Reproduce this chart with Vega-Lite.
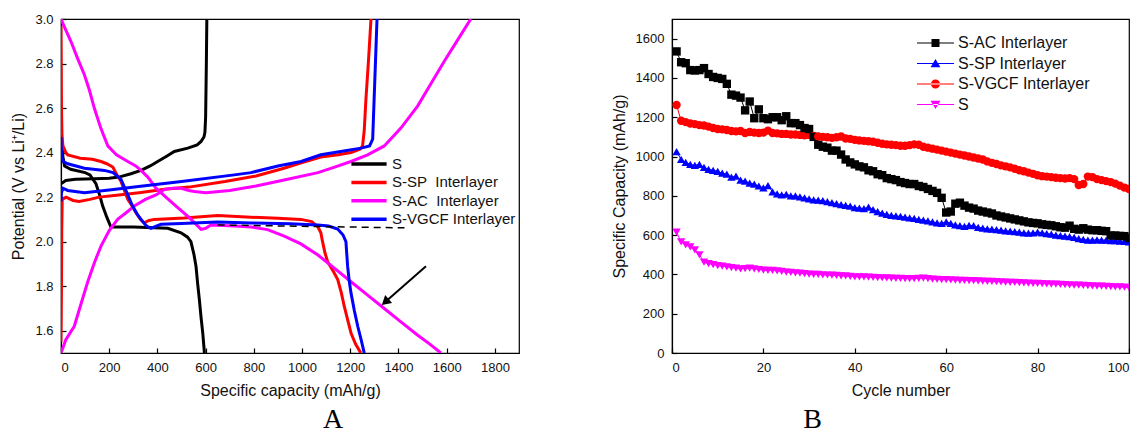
{
  "$schema": "https://vega.github.io/schema/vega-lite/v6.json",
  "background": "white",
  "padding": {"left": 10, "top": 12, "right": 5, "bottom": 5},
  "spacing": 90,
  "config": {
    "font": "Liberation Sans",
    "view": {"stroke": "#000", "strokeWidth": 1.2},
    "axis": {
      "labelFont": "Liberation Sans", "labelFontSize": 13, "labelColor": "#111",
      "titleFont": "Liberation Sans", "titleFontSize": 16, "titleFontWeight": "normal", "titleColor": "#111",
      "domainColor": "#000", "domainWidth": 1.2, "tickColor": "#000", "tickWidth": 1.2, "grid": false,
      "tickSize": -5, "labelPadding": 13
    },
    "legend": {"labelFont": "Liberation Sans"}
  },
  "resolve": {"scale": {"color": "independent", "shape": "independent", "x": "independent", "y": "independent"}},
  "hconcat": [
    {
      "width": 458, "height": 334,
      "title": {"text": "A", "orient": "bottom", "anchor": "middle", "font": "Liberation Serif", "fontSize": 28, "fontWeight": "normal", "color": "#000", "dx": 43, "offset": 8},
      "layer": [
        {
          "data": {"values": [
            {"c":"S","b":"d","i":0,"x":0,"y":2.56},{"c":"S","b":"d","i":1,"x":3,"y":2.45},{"c":"S","b":"d","i":2,"x":8,"y":2.38},{"c":"S","b":"d","i":3,"x":15,"y":2.34},{"c":"S","b":"d","i":4,"x":40,"y":2.325},{"c":"S","b":"d","i":5,"x":100,"y":2.31},{"c":"S","b":"d","i":6,"x":120,"y":2.3},{"c":"S","b":"d","i":7,"x":145,"y":2.26},{"c":"S","b":"d","i":8,"x":160,"y":2.21},{"c":"S","b":"d","i":9,"x":173,"y":2.16},{"c":"S","b":"d","i":10,"x":190,"y":2.11},{"c":"S","b":"d","i":11,"x":207,"y":2.066},{"c":"S","b":"d","i":12,"x":300,"y":2.066},{"c":"S","b":"d","i":13,"x":443,"y":2.06},{"c":"S","b":"d","i":14,"x":498,"y":2.04},{"c":"S","b":"d","i":15,"x":525,"y":2.02},{"c":"S","b":"d","i":16,"x":539,"y":2.0},{"c":"S","b":"d","i":17,"x":552,"y":1.94},{"c":"S","b":"d","i":18,"x":560,"y":1.89},{"c":"S","b":"d","i":19,"x":567,"y":1.81},{"c":"S","b":"d","i":20,"x":574,"y":1.74},{"c":"S","b":"d","i":21,"x":581,"y":1.66},{"c":"S","b":"d","i":22,"x":588,"y":1.59},{"c":"S","b":"d","i":23,"x":595,"y":1.5},
            {"c":"S","b":"c","i":0,"x":0,"y":2.26},{"c":"S","b":"c","i":1,"x":20,"y":2.275},{"c":"S","b":"c","i":2,"x":60,"y":2.28},{"c":"S","b":"c","i":3,"x":140,"y":2.283},{"c":"S","b":"c","i":4,"x":200,"y":2.285},{"c":"S","b":"c","i":5,"x":240,"y":2.29},{"c":"S","b":"c","i":6,"x":290,"y":2.305},{"c":"S","b":"c","i":7,"x":332,"y":2.32},{"c":"S","b":"c","i":8,"x":370,"y":2.34},{"c":"S","b":"c","i":9,"x":401,"y":2.36},{"c":"S","b":"c","i":10,"x":440,"y":2.385},{"c":"S","b":"c","i":11,"x":470,"y":2.405},{"c":"S","b":"c","i":12,"x":526,"y":2.42},{"c":"S","b":"c","i":13,"x":565,"y":2.435},{"c":"S","b":"c","i":14,"x":581,"y":2.45},{"c":"S","b":"c","i":15,"x":593,"y":2.47},{"c":"S","b":"c","i":16,"x":597,"y":2.49},{"c":"S","b":"c","i":17,"x":600,"y":2.56},{"c":"S","b":"c","i":18,"x":601,"y":2.64},{"c":"S","b":"c","i":19,"x":603,"y":2.8},{"c":"S","b":"c","i":20,"x":605,"y":3.0},
            {"c":"SP","b":"d","i":0,"x":0,"y":2.97},{"c":"SP","b":"d","i":1,"x":1,"y":2.8},{"c":"SP","b":"d","i":2,"x":2,"y":2.6},{"c":"SP","b":"d","i":3,"x":4,"y":2.48},{"c":"SP","b":"d","i":4,"x":8,"y":2.43},{"c":"SP","b":"d","i":5,"x":20,"y":2.4},{"c":"SP","b":"d","i":6,"x":28,"y":2.39},{"c":"SP","b":"d","i":7,"x":80,"y":2.375},{"c":"SP","b":"d","i":8,"x":130,"y":2.37},{"c":"SP","b":"d","i":9,"x":166,"y":2.36},{"c":"SP","b":"d","i":10,"x":190,"y":2.35},{"c":"SP","b":"d","i":11,"x":207,"y":2.34},{"c":"SP","b":"d","i":12,"x":215,"y":2.335},{"c":"SP","b":"d","i":13,"x":232,"y":2.3},{"c":"SP","b":"d","i":14,"x":249,"y":2.27},{"c":"SP","b":"d","i":15,"x":263,"y":2.23},{"c":"SP","b":"d","i":16,"x":277,"y":2.19},{"c":"SP","b":"d","i":17,"x":295,"y":2.16},{"c":"SP","b":"d","i":18,"x":311,"y":2.13},{"c":"SP","b":"d","i":19,"x":330,"y":2.1},{"c":"SP","b":"d","i":20,"x":345,"y":2.085},{"c":"SP","b":"d","i":21,"x":365,"y":2.095},{"c":"SP","b":"d","i":22,"x":387,"y":2.1},{"c":"SP","b":"d","i":23,"x":511,"y":2.106},{"c":"SP","b":"d","i":24,"x":650,"y":2.117},{"c":"SP","b":"d","i":25,"x":788,"y":2.11},{"c":"SP","b":"d","i":26,"x":900,"y":2.105},{"c":"SP","b":"d","i":27,"x":995,"y":2.1},{"c":"SP","b":"d","i":28,"x":1040,"y":2.09},{"c":"SP","b":"d","i":29,"x":1066,"y":2.066},{"c":"SP","b":"d","i":30,"x":1078,"y":2.04},{"c":"SP","b":"d","i":31,"x":1085,"y":2.0},{"c":"SP","b":"d","i":32,"x":1095,"y":1.95},{"c":"SP","b":"d","i":33,"x":1106,"y":1.91},{"c":"SP","b":"d","i":34,"x":1128,"y":1.87},{"c":"SP","b":"d","i":35,"x":1148,"y":1.83},{"c":"SP","b":"d","i":36,"x":1163,"y":1.77},{"c":"SP","b":"d","i":37,"x":1175,"y":1.71},{"c":"SP","b":"d","i":38,"x":1189,"y":1.65},{"c":"SP","b":"d","i":39,"x":1203,"y":1.59},{"c":"SP","b":"d","i":40,"x":1222,"y":1.54},{"c":"SP","b":"d","i":41,"x":1244,"y":1.5},
            {"c":"SP","b":"c","i":0,"x":0,"y":1.55},{"c":"SP","b":"c","i":1,"x":2,"y":1.8},{"c":"SP","b":"c","i":2,"x":3,"y":2.05},{"c":"SP","b":"c","i":3,"x":5,"y":2.19},{"c":"SP","b":"c","i":4,"x":21,"y":2.2},{"c":"SP","b":"c","i":5,"x":50,"y":2.185},{"c":"SP","b":"c","i":6,"x":75,"y":2.18},{"c":"SP","b":"c","i":7,"x":120,"y":2.19},{"c":"SP","b":"c","i":8,"x":158,"y":2.2},{"c":"SP","b":"c","i":9,"x":240,"y":2.21},{"c":"SP","b":"c","i":10,"x":324,"y":2.22},{"c":"SP","b":"c","i":11,"x":430,"y":2.235},{"c":"SP","b":"c","i":12,"x":531,"y":2.245},{"c":"SP","b":"c","i":13,"x":680,"y":2.27},{"c":"SP","b":"c","i":14,"x":809,"y":2.295},{"c":"SP","b":"c","i":15,"x":925,"y":2.33},{"c":"SP","b":"c","i":16,"x":1000,"y":2.355},{"c":"SP","b":"c","i":17,"x":1078,"y":2.38},{"c":"SP","b":"c","i":18,"x":1150,"y":2.39},{"c":"SP","b":"c","i":19,"x":1203,"y":2.4},{"c":"SP","b":"c","i":20,"x":1240,"y":2.415},{"c":"SP","b":"c","i":21,"x":1251,"y":2.43},{"c":"SP","b":"c","i":22,"x":1258,"y":2.5},{"c":"SP","b":"c","i":23,"x":1265,"y":2.64},{"c":"SP","b":"c","i":24,"x":1276,"y":2.82},{"c":"SP","b":"c","i":25,"x":1286,"y":3.0},
            {"c":"AC","b":"d","i":0,"x":0,"y":3.0},{"c":"AC","b":"d","i":1,"x":20,"y":2.95},{"c":"AC","b":"d","i":2,"x":41,"y":2.9},{"c":"AC","b":"d","i":3,"x":70,"y":2.82},{"c":"AC","b":"d","i":4,"x":97,"y":2.75},{"c":"AC","b":"d","i":5,"x":118,"y":2.68},{"c":"AC","b":"d","i":6,"x":138,"y":2.6},{"c":"AC","b":"d","i":7,"x":165,"y":2.51},{"c":"AC","b":"d","i":8,"x":194,"y":2.43},{"c":"AC","b":"d","i":9,"x":230,"y":2.39},{"c":"AC","b":"d","i":10,"x":277,"y":2.36},{"c":"AC","b":"d","i":11,"x":310,"y":2.34},{"c":"AC","b":"d","i":12,"x":332,"y":2.32},{"c":"AC","b":"d","i":13,"x":360,"y":2.29},{"c":"AC","b":"d","i":14,"x":394,"y":2.24},{"c":"AC","b":"d","i":15,"x":435,"y":2.2},{"c":"AC","b":"d","i":16,"x":477,"y":2.16},{"c":"AC","b":"d","i":17,"x":530,"y":2.11},{"c":"AC","b":"d","i":18,"x":581,"y":2.055},{"c":"AC","b":"d","i":19,"x":600,"y":2.06},{"c":"AC","b":"d","i":20,"x":622,"y":2.075},{"c":"AC","b":"d","i":21,"x":719,"y":2.07},{"c":"AC","b":"d","i":22,"x":788,"y":2.066},{"c":"AC","b":"d","i":23,"x":857,"y":2.054},{"c":"AC","b":"d","i":24,"x":926,"y":2.025},{"c":"AC","b":"d","i":25,"x":995,"y":1.99},{"c":"AC","b":"d","i":26,"x":1066,"y":1.94},{"c":"AC","b":"d","i":27,"x":1135,"y":1.88},{"c":"AC","b":"d","i":28,"x":1203,"y":1.82},{"c":"AC","b":"d","i":29,"x":1272,"y":1.76},{"c":"AC","b":"d","i":30,"x":1341,"y":1.7},{"c":"AC","b":"d","i":31,"x":1410,"y":1.64},{"c":"AC","b":"d","i":32,"x":1480,"y":1.58},{"c":"AC","b":"d","i":33,"x":1530,"y":1.54},{"c":"AC","b":"d","i":34,"x":1576,"y":1.5},
            {"c":"AC","b":"c","i":0,"x":0,"y":1.5},{"c":"AC","b":"c","i":1,"x":20,"y":1.56},{"c":"AC","b":"c","i":2,"x":55,"y":1.62},{"c":"AC","b":"c","i":3,"x":80,"y":1.71},{"c":"AC","b":"c","i":4,"x":111,"y":1.82},{"c":"AC","b":"c","i":5,"x":140,"y":1.91},{"c":"AC","b":"c","i":6,"x":166,"y":1.98},{"c":"AC","b":"c","i":7,"x":200,"y":2.05},{"c":"AC","b":"c","i":8,"x":235,"y":2.1},{"c":"AC","b":"c","i":9,"x":270,"y":2.13},{"c":"AC","b":"c","i":10,"x":304,"y":2.16},{"c":"AC","b":"c","i":11,"x":350,"y":2.19},{"c":"AC","b":"c","i":12,"x":394,"y":2.21},{"c":"AC","b":"c","i":13,"x":430,"y":2.235},{"c":"AC","b":"c","i":14,"x":463,"y":2.24},{"c":"AC","b":"c","i":15,"x":498,"y":2.24},{"c":"AC","b":"c","i":16,"x":531,"y":2.23},{"c":"AC","b":"c","i":17,"x":553,"y":2.225},{"c":"AC","b":"c","i":18,"x":601,"y":2.22},{"c":"AC","b":"c","i":19,"x":700,"y":2.23},{"c":"AC","b":"c","i":20,"x":809,"y":2.25},{"c":"AC","b":"c","i":21,"x":940,"y":2.28},{"c":"AC","b":"c","i":22,"x":1066,"y":2.31},{"c":"AC","b":"c","i":23,"x":1135,"y":2.335},{"c":"AC","b":"c","i":24,"x":1203,"y":2.36},{"c":"AC","b":"c","i":25,"x":1272,"y":2.39},{"c":"AC","b":"c","i":26,"x":1341,"y":2.43},{"c":"AC","b":"c","i":27,"x":1410,"y":2.51},{"c":"AC","b":"c","i":28,"x":1480,"y":2.61},{"c":"AC","b":"c","i":29,"x":1535,"y":2.71},{"c":"AC","b":"c","i":30,"x":1590,"y":2.81},{"c":"AC","b":"c","i":31,"x":1645,"y":2.905},{"c":"AC","b":"c","i":32,"x":1700,"y":3.0},
            {"c":"VGCF","b":"d","i":0,"x":0,"y":2.47},{"c":"VGCF","b":"d","i":1,"x":1,"y":2.42},{"c":"VGCF","b":"d","i":2,"x":3,"y":2.38},{"c":"VGCF","b":"d","i":3,"x":10,"y":2.36},{"c":"VGCF","b":"d","i":4,"x":28,"y":2.35},{"c":"VGCF","b":"d","i":5,"x":97,"y":2.33},{"c":"VGCF","b":"d","i":6,"x":180,"y":2.32},{"c":"VGCF","b":"d","i":7,"x":216,"y":2.31},{"c":"VGCF","b":"d","i":8,"x":249,"y":2.28},{"c":"VGCF","b":"d","i":9,"x":273,"y":2.22},{"c":"VGCF","b":"d","i":10,"x":297,"y":2.16},{"c":"VGCF","b":"d","i":11,"x":318,"y":2.12},{"c":"VGCF","b":"d","i":12,"x":339,"y":2.09},{"c":"VGCF","b":"d","i":13,"x":355,"y":2.07},{"c":"VGCF","b":"d","i":14,"x":373,"y":2.06},{"c":"VGCF","b":"d","i":15,"x":395,"y":2.07},{"c":"VGCF","b":"d","i":16,"x":415,"y":2.078},{"c":"VGCF","b":"d","i":17,"x":500,"y":2.082},{"c":"VGCF","b":"d","i":18,"x":650,"y":2.088},{"c":"VGCF","b":"d","i":19,"x":788,"y":2.084},{"c":"VGCF","b":"d","i":20,"x":950,"y":2.08},{"c":"VGCF","b":"d","i":21,"x":1066,"y":2.075},{"c":"VGCF","b":"d","i":22,"x":1110,"y":2.07},{"c":"VGCF","b":"d","i":23,"x":1148,"y":2.057},{"c":"VGCF","b":"d","i":24,"x":1170,"y":2.03},{"c":"VGCF","b":"d","i":25,"x":1182,"y":2.0},{"c":"VGCF","b":"d","i":26,"x":1189,"y":1.89},{"c":"VGCF","b":"d","i":27,"x":1195,"y":1.83},{"c":"VGCF","b":"d","i":28,"x":1203,"y":1.77},{"c":"VGCF","b":"d","i":29,"x":1217,"y":1.69},{"c":"VGCF","b":"d","i":30,"x":1231,"y":1.62},{"c":"VGCF","b":"d","i":31,"x":1245,"y":1.56},{"c":"VGCF","b":"d","i":32,"x":1258,"y":1.5},
            {"c":"VGCF","b":"c","i":0,"x":0,"y":2.18},{"c":"VGCF","b":"c","i":1,"x":2,"y":2.22},{"c":"VGCF","b":"c","i":2,"x":8,"y":2.24},{"c":"VGCF","b":"c","i":3,"x":28,"y":2.23},{"c":"VGCF","b":"c","i":4,"x":97,"y":2.22},{"c":"VGCF","b":"c","i":5,"x":200,"y":2.232},{"c":"VGCF","b":"c","i":6,"x":304,"y":2.245},{"c":"VGCF","b":"c","i":7,"x":500,"y":2.27},{"c":"VGCF","b":"c","i":8,"x":719,"y":2.3},{"c":"VGCF","b":"c","i":9,"x":788,"y":2.31},{"c":"VGCF","b":"c","i":10,"x":900,"y":2.34},{"c":"VGCF","b":"c","i":11,"x":996,"y":2.36},{"c":"VGCF","b":"c","i":12,"x":1078,"y":2.39},{"c":"VGCF","b":"c","i":13,"x":1160,"y":2.405},{"c":"VGCF","b":"c","i":14,"x":1245,"y":2.42},{"c":"VGCF","b":"c","i":15,"x":1280,"y":2.43},{"c":"VGCF","b":"c","i":16,"x":1293,"y":2.46},{"c":"VGCF","b":"c","i":17,"x":1296,"y":2.55},{"c":"VGCF","b":"c","i":18,"x":1299,"y":2.64},{"c":"VGCF","b":"c","i":19,"x":1305,"y":2.82},{"c":"VGCF","b":"c","i":20,"x":1311,"y":3.0}
          ]},
          "mark": {"type": "line", "strokeWidth": 3, "clip": true},
          "encoding": {
            "x": {"field": "x", "type": "quantitative", "scale": {"domain": [0, 1900], "nice": false, "zero": false},
                  "axis": {"title": "Specific capacity (mAh/g)", "values": [0,200,400,600,800,1000,1200,1400,1600,1800], "format": "d", "titlePadding": 8}},
            "y": {"field": "y", "type": "quantitative", "scale": {"domain": [1.5, 3.0], "nice": false, "zero": false},
                  "axis": {"title": "Potential (V vs Li⁺/Li)", "values": [1.6,1.8,2.0,2.2,2.4,2.6,2.8,3.0], "format": ".1f", "titlePadding": 8}},
            "color": {"field": "c", "type": "nominal",
                      "scale": {"domain": ["S","SP","AC","VGCF"], "range": ["#000000","#ff0000","#ff00ff","#0000ff"]},
                      "legend": {"title": null, "orient": "none", "legendX": 290, "legendY": 135,
                                 "labelFontSize": 15, "labelColor": "#111", "symbolType": "M-1.2,0H3.2", "symbolSize": 256,
                                 "symbolStrokeWidth": 3.5, "labelOffset": 21, "rowPadding": 0.4,
                                 "labelExpr": "datum.value === 'S' ? 'S' : datum.value === 'SP' ? 'S-SP\u00a0 Interlayer' : datum.value === 'AC' ? 'S-AC\u00a0 Interlayer' : 'S-VGCF Interlayer'"}},
            "detail": {"field": "b", "type": "nominal"},
            "order": {"field": "i", "type": "quantitative"}
          }
        },
        {
          "data": {"values": [{"x": 650, "y": 2.075}, {"x": 1425, "y": 2.062}]},
          "mark": {"type": "line", "color": "#000", "strokeWidth": 1.5, "strokeDash": [7, 5]},
          "encoding": {"x": {"field": "x", "type": "quantitative"}, "y": {"field": "y", "type": "quantitative"}}
        },
        {
          "data": {"values": [{"x": 1514, "y": 1.89, "x2": 1345, "y2": 1.729}]},
          "mark": {"type": "rule", "color": "#000", "strokeWidth": 2},
          "encoding": {"x": {"field": "x", "type": "quantitative"}, "y": {"field": "y", "type": "quantitative"},
                       "x2": {"field": "x2"}, "y2": {"field": "y2"}}
        },
        {
          "data": {"values": [{"x": 1345, "y": 1.729}]},
          "mark": {"type": "point", "shape": "triangle-up", "filled": true, "angle": 228.5, "size": 110, "color": "#000", "opacity": 1},
          "encoding": {"x": {"field": "x", "type": "quantitative"}, "y": {"field": "y", "type": "quantitative"}}
        }
      ]
    },
    {
      "width": 457, "height": 334,
      "title": {"text": "B", "orient": "bottom", "anchor": "middle", "font": "Liberation Serif", "fontSize": 28, "fontWeight": "normal", "color": "#000", "dx": -88, "offset": 8},
      "data": {"values": [
        {"cycle":1,"AC":1535,"SP":1025,"VGCF":1262,"S":615},{"cycle":2,"AC":1480,"SP":985,"VGCF":1182,"S":565},{"cycle":3,"AC":1475,"SP":970,"VGCF":1175,"S":550},{"cycle":4,"AC":1440,"SP":960,"VGCF":1168,"S":540},{"cycle":5,"AC":1438,"SP":955,"VGCF":1165,"S":525},
        {"cycle":6,"AC":1440,"SP":960,"VGCF":1160,"S":500},{"cycle":7,"AC":1450,"SP":945,"VGCF":1158,"S":462},{"cycle":8,"AC":1420,"SP":935,"VGCF":1152,"S":455},{"cycle":9,"AC":1405,"SP":930,"VGCF":1145,"S":450},{"cycle":10,"AC":1400,"SP":925,"VGCF":1140,"S":445},
        {"cycle":11,"AC":1395,"SP":915,"VGCF":1138,"S":442},{"cycle":12,"AC":1370,"SP":910,"VGCF":1135,"S":438},{"cycle":13,"AC":1315,"SP":895,"VGCF":1130,"S":435},{"cycle":14,"AC":1310,"SP":900,"VGCF":1128,"S":432},{"cycle":15,"AC":1300,"SP":880,"VGCF":1130,"S":428},
        {"cycle":16,"AC":1235,"SP":875,"VGCF":1120,"S":430},{"cycle":17,"AC":1280,"SP":865,"VGCF":1125,"S":432},{"cycle":18,"AC":1195,"SP":860,"VGCF":1122,"S":428},{"cycle":19,"AC":1240,"SP":850,"VGCF":1120,"S":425},{"cycle":20,"AC":1195,"SP":840,"VGCF":1122,"S":422},
        {"cycle":21,"AC":1190,"SP":852,"VGCF":1132,"S":420},{"cycle":22,"AC":1200,"SP":820,"VGCF":1120,"S":420},{"cycle":23,"AC":1200,"SP":810,"VGCF":1118,"S":418},{"cycle":24,"AC":1185,"SP":805,"VGCF":1115,"S":415},{"cycle":25,"AC":1205,"SP":808,"VGCF":1115,"S":412},
        {"cycle":26,"AC":1170,"SP":800,"VGCF":1112,"S":410},{"cycle":27,"AC":1170,"SP":800,"VGCF":1112,"S":408},{"cycle":28,"AC":1160,"SP":795,"VGCF":1110,"S":406},{"cycle":29,"AC":1145,"SP":790,"VGCF":1108,"S":404},{"cycle":30,"AC":1140,"SP":785,"VGCF":1110,"S":402},
        {"cycle":31,"AC":1100,"SP":780,"VGCF":1105,"S":400},{"cycle":32,"AC":1060,"SP":778,"VGCF":1102,"S":400},{"cycle":33,"AC":1050,"SP":775,"VGCF":1100,"S":398},{"cycle":34,"AC":1045,"SP":770,"VGCF":1098,"S":397},{"cycle":35,"AC":1030,"SP":765,"VGCF":1095,"S":396},
        {"cycle":36,"AC":1030,"SP":760,"VGCF":1098,"S":395},{"cycle":37,"AC":1010,"SP":755,"VGCF":1102,"S":393},{"cycle":38,"AC":985,"SP":752,"VGCF":1092,"S":392},{"cycle":39,"AC":970,"SP":748,"VGCF":1090,"S":390},{"cycle":40,"AC":960,"SP":740,"VGCF":1085,"S":388},
        {"cycle":41,"AC":950,"SP":738,"VGCF":1082,"S":388},{"cycle":42,"AC":945,"SP":735,"VGCF":1080,"S":387},{"cycle":43,"AC":930,"SP":742,"VGCF":1078,"S":386},{"cycle":44,"AC":925,"SP":730,"VGCF":1075,"S":385},{"cycle":45,"AC":910,"SP":720,"VGCF":1070,"S":384},
        {"cycle":46,"AC":905,"SP":712,"VGCF":1065,"S":383},{"cycle":47,"AC":890,"SP":705,"VGCF":1062,"S":382},{"cycle":48,"AC":885,"SP":700,"VGCF":1060,"S":381},{"cycle":49,"AC":880,"SP":698,"VGCF":1058,"S":380},{"cycle":50,"AC":870,"SP":695,"VGCF":1055,"S":380},
        {"cycle":51,"AC":865,"SP":692,"VGCF":1055,"S":379},{"cycle":52,"AC":860,"SP":688,"VGCF":1058,"S":378},{"cycle":53,"AC":860,"SP":685,"VGCF":1062,"S":378},{"cycle":54,"AC":850,"SP":680,"VGCF":1060,"S":380},{"cycle":55,"AC":845,"SP":676,"VGCF":1050,"S":381},
        {"cycle":56,"AC":835,"SP":672,"VGCF":1045,"S":378},{"cycle":57,"AC":825,"SP":668,"VGCF":1040,"S":376},{"cycle":58,"AC":815,"SP":662,"VGCF":1035,"S":375},{"cycle":59,"AC":790,"SP":660,"VGCF":1030,"S":374},{"cycle":60,"AC":715,"SP":668,"VGCF":1025,"S":373},
        {"cycle":61,"AC":720,"SP":660,"VGCF":1020,"S":372},{"cycle":62,"AC":760,"SP":652,"VGCF":1015,"S":371},{"cycle":63,"AC":765,"SP":648,"VGCF":1010,"S":370},{"cycle":64,"AC":750,"SP":645,"VGCF":1005,"S":370},{"cycle":65,"AC":740,"SP":650,"VGCF":1000,"S":369},
        {"cycle":66,"AC":735,"SP":648,"VGCF":995,"S":368},{"cycle":67,"AC":725,"SP":640,"VGCF":990,"S":367},{"cycle":68,"AC":720,"SP":636,"VGCF":985,"S":366},{"cycle":69,"AC":715,"SP":632,"VGCF":975,"S":365},{"cycle":70,"AC":710,"SP":630,"VGCF":968,"S":364},
        {"cycle":71,"AC":700,"SP":628,"VGCF":962,"S":363},{"cycle":72,"AC":695,"SP":625,"VGCF":955,"S":362},{"cycle":73,"AC":690,"SP":622,"VGCF":950,"S":361},{"cycle":74,"AC":685,"SP":620,"VGCF":945,"S":360},{"cycle":75,"AC":680,"SP":618,"VGCF":938,"S":359},
        {"cycle":76,"AC":675,"SP":615,"VGCF":930,"S":358},{"cycle":77,"AC":670,"SP":612,"VGCF":925,"S":357},{"cycle":78,"AC":665,"SP":610,"VGCF":918,"S":356},{"cycle":79,"AC":662,"SP":612,"VGCF":912,"S":355},{"cycle":80,"AC":660,"SP":615,"VGCF":905,"S":354},
        {"cycle":81,"AC":655,"SP":612,"VGCF":900,"S":353},{"cycle":82,"AC":652,"SP":608,"VGCF":898,"S":352},{"cycle":83,"AC":650,"SP":605,"VGCF":895,"S":351},{"cycle":84,"AC":645,"SP":600,"VGCF":892,"S":350},{"cycle":85,"AC":640,"SP":598,"VGCF":890,"S":349},
        {"cycle":86,"AC":638,"SP":595,"VGCF":888,"S":348},{"cycle":87,"AC":648,"SP":592,"VGCF":890,"S":347},{"cycle":88,"AC":632,"SP":588,"VGCF":885,"S":346},{"cycle":89,"AC":628,"SP":582,"VGCF":855,"S":345},{"cycle":90,"AC":635,"SP":578,"VGCF":860,"S":344},
        {"cycle":91,"AC":628,"SP":575,"VGCF":898,"S":343},{"cycle":92,"AC":625,"SP":575,"VGCF":895,"S":342},{"cycle":93,"AC":625,"SP":576,"VGCF":885,"S":341},{"cycle":94,"AC":622,"SP":575,"VGCF":880,"S":340},{"cycle":95,"AC":620,"SP":574,"VGCF":875,"S":339},
        {"cycle":96,"AC":598,"SP":572,"VGCF":870,"S":338},{"cycle":97,"AC":598,"SP":572,"VGCF":862,"S":337},{"cycle":98,"AC":596,"SP":570,"VGCF":852,"S":336},{"cycle":99,"AC":595,"SP":568,"VGCF":842,"S":335},{"cycle":100,"AC":585,"SP":566,"VGCF":835,"S":333}
      ]},
      "transform": [{"fold": ["S", "SP", "VGCF", "AC"], "as": ["s", "cap"]}],
      "encoding": {
        "x": {"field": "cycle", "type": "quantitative", "scale": {"domain": [0, 100], "nice": false, "zero": false},
              "axis": {"title": "Cycle number", "values": [0,20,40,60,80,100], "format": "d", "titlePadding": 8}},
        "y": {"field": "cap", "type": "quantitative", "scale": {"domain": [0, 1700], "nice": false},
              "axis": {"title": "Specific Capacity (mAh/g)", "values": [0,200,400,600,800,1000,1200,1400,1600], "format": "d", "titlePadding": 8}}
      },
      "resolve": {"scale": {"color": "independent", "shape": "independent"}},
      "layer": [
        {
          "mark": {"type": "line", "strokeWidth": 1, "clip": true},
          "encoding": {
            "color": {"field": "s", "type": "nominal", "scale": {"domain": ["AC","SP","VGCF","S"], "range": ["#000000","#0000ff","#ff0000","#ff00ff"]}, "legend": null},
            "detail": {"field": "s", "type": "nominal"}
          }
        },
        {
          "mark": {"type": "point", "filled": true, "size": 70, "opacity": 1, "clip": true},
          "encoding": {
            "color": {"field": "s", "type": "nominal", "scale": {"domain": ["AC","SP","VGCF","S"], "range": ["#000000","#0000ff","#ff0000","#ff00ff"]}, "legend": null},
            "shape": {"field": "s", "type": "nominal", "scale": {"domain": ["AC","SP","VGCF","S"], "range": ["square","triangle-up","circle","triangle-down"]}, "legend": null}
          }
        },
        {
          "mark": {"type": "point", "filled": true, "size": 64, "opacity": 0},
          "encoding": {
            "color": {"field": "s", "type": "nominal", "scale": {"domain": ["AC","SP","VGCF","S"], "range": ["#000000","#0000ff","#ff0000","#ff00ff"]},
                      "legend": {"title": null, "orient": "none", "legendX": 241, "legendY": 16, "labelFontSize": 16, "labelColor": "#111",
                                 "symbolSize": 64, "symbolOpacity": 1, "labelOffset": 29, "rowPadding": 4.5, "symbolStrokeWidth": 0,
                                 "labelExpr": "datum.value === 'AC' ? 'S-AC Interlayer' : datum.value === 'SP' ? 'S-SP Interlayer' : datum.value === 'VGCF' ? 'S-VGCF Interlayer' : 'S'"}},
            "shape": {"field": "s", "type": "nominal",
                      "scale": {"domain": ["AC","SP","VGCF","S"], "range": [
                        "M-1,-0.13H8.25V0.13H-1Z M2.625,-1H4.625V1H2.625Z",
                        "M-1,-0.13H8.25V0.13H-1Z M3.625,-1.15L4.85,0.95H2.4Z",
                        "M-1,-0.13H8.25V0.13H-1Z M2.5,0A1.125,1.125 0 1,0 4.75,0A1.125,1.125 0 1,0 2.5,0Z",
                        "M-1,-0.13H8.25V0.13H-1Z M3.625,1.15L4.85,-0.95H2.4Z"]},
                      "legend": {"title": null, "orient": "none", "legendX": 241, "legendY": 16, "labelFontSize": 16, "labelColor": "#111",
                                 "symbolSize": 64, "symbolOpacity": 1, "labelOffset": 29, "rowPadding": 4.5, "symbolStrokeWidth": 0,
                                 "labelExpr": "datum.value === 'AC' ? 'S-AC Interlayer' : datum.value === 'SP' ? 'S-SP Interlayer' : datum.value === 'VGCF' ? 'S-VGCF Interlayer' : 'S'"}}
          }
        }
      ]
    }
  ]
}
